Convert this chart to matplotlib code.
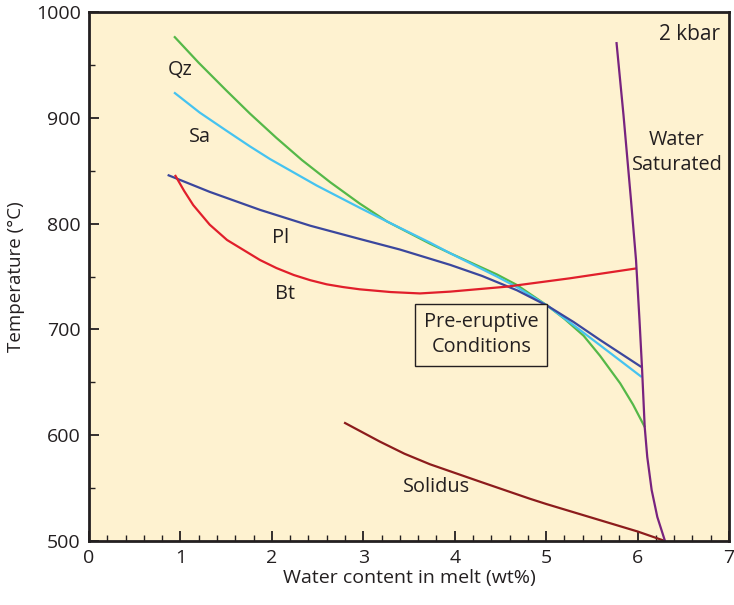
import matplotlib
matplotlib.use("Agg")
import matplotlib.pyplot as plt
from matplotlib.ticker import MultipleLocator

plt.rcParams['font.family'] = ['Open Sans', 'DejaVu Sans']

# --- data ---
qz_x = [0.93, 1.2, 1.5, 1.76, 2.05, 2.33, 2.64, 2.96, 3.26, 3.73, 3.95, 4.46, 4.68, 5.02, 5.2, 5.41, 5.59, 5.81, 5.95, 6.08]
qz_t = [977, 952, 926, 904, 881, 860, 839, 819, 802, 781, 772, 752, 742, 722, 710, 694, 675, 649, 629, 607.5]

sa_x = [0.93, 1.21, 1.5, 1.76, 1.98, 2.49, 2.96, 3.26, 3.73, 3.95, 4.46, 4.68, 5.02, 5.3, 5.59, 6.045]
sa_t = [924, 905, 888, 873, 861, 836, 815, 802, 782, 772, 750, 740, 722, 704, 685, 655]

pl_x = [0.86, 1.32, 1.87, 2.42, 2.96, 3.40, 3.95, 4.3, 4.68, 5.02, 5.3, 5.59, 6.041]
pl_t = [846, 830, 813, 798, 785.5, 775.5, 761, 750.5, 737, 722, 707, 690, 664.5]

bt_x = [0.94, 1.04, 1.14, 1.32, 1.51, 1.87, 2.05, 2.24, 2.42, 2.6, 2.78, 2.96, 3.3, 3.62, 3.95, 4.57, 5.26, 5.99]
bt_t = [846, 831, 817.5, 799, 784.5, 765.6, 758, 751.4, 746.5, 742.6, 740, 737.9, 735.3, 734, 735.7, 740.4, 748.3, 757.7]

sol_x = [2.79, 3.18, 3.45, 3.73, 4.28, 4.82, 5.0, 5.5, 6.0, 6.3]
sol_t = [612, 594, 582.5, 572.5, 556, 540, 535, 522, 509, 500]

ws_x = [5.769, 5.846, 5.928, 5.983, 6.021, 6.048, 6.078, 6.106, 6.154, 6.216, 6.300]
ws_t = [971.6, 902.6, 822.3, 765.6, 708.9, 664.5, 607.8, 579.4, 548.2, 522.7, 500]

x_ticks = [0, 1, 2, 3, 4, 5, 6, 7]
y_ticks = [500, 600, 700, 800, 900, 1000]

BG = '#fef2d0'
INK = '#231f20'

fig = plt.figure(figsize=(7.34, 6.05), dpi=100)
ax = fig.add_axes([89/734, 64/605, 640/734, 529/605])
ax.set_facecolor(BG)

lw = 1.6
for xs, ts, c in [(qz_x, qz_t, '#55b848'), (sa_x, sa_t, '#45c3f0'),
                  (pl_x, pl_t, '#3b479d'), (bt_x, bt_t, '#e11f2b'),
                  (sol_x, sol_t, '#8c1c1c'), (ws_x, ws_t, '#78237f')]:
    ax.plot(xs, ts, color=c, lw=lw, solid_joinstyle='round', solid_capstyle='butt')

fs = 14.3
ax.text(0.995, 945, 'Qz', fontsize=fs, ha='center', va='center', color=INK)
ax.text(1.21, 882, 'Sa', fontsize=fs, ha='center', va='center', color=INK)
ax.text(2.09, 786, 'Pl', fontsize=fs, ha='center', va='center', color=INK)
ax.text(2.14, 733, 'Bt', fontsize=fs, ha='center', va='center', color=INK)
ax.text(3.80, 551, 'Solidus', fontsize=fs, ha='center', va='center', color=INK)
ax.text(6.43, 867, 'Water\nSaturated', fontsize=fs, ha='center', va='center',
        color=INK, linespacing=1.3)
ax.text(6.57, 979, '2 kbar', fontsize=15, ha='center', va='center', color=INK)
ax.text(4.29, 695, 'Pre-eruptive\nConditions', fontsize=fs, ha='center', va='center',
        color=INK, linespacing=1.3,
        bbox=dict(boxstyle='square,pad=0.45', facecolor=BG, edgecolor=INK, lw=1.0))

ax.set_xlim(0, 7)
ax.set_ylim(500, 1000)
ax.set_xticks(x_ticks)
ax.set_yticks(y_ticks)
ax.xaxis.set_minor_locator(MultipleLocator(0.2))
ax.yaxis.set_minor_locator(MultipleLocator(50))
ax.tick_params(which='major', direction='in', length=7, width=1.3, labelsize=14,
               colors=INK, pad=6)
ax.tick_params(which='minor', direction='in', length=4, width=1.0, colors=INK)
for s in ax.spines.values():
    s.set_linewidth(2.0)
    s.set_color(INK)

ax.set_xlabel('Water content in melt (wt%)', fontsize=14, color=INK, labelpad=1)
ax.set_ylabel('Temperature (°C)', fontsize=13.5, color=INK, labelpad=8)

fig.savefig('out.png', dpi=100, facecolor='white')
